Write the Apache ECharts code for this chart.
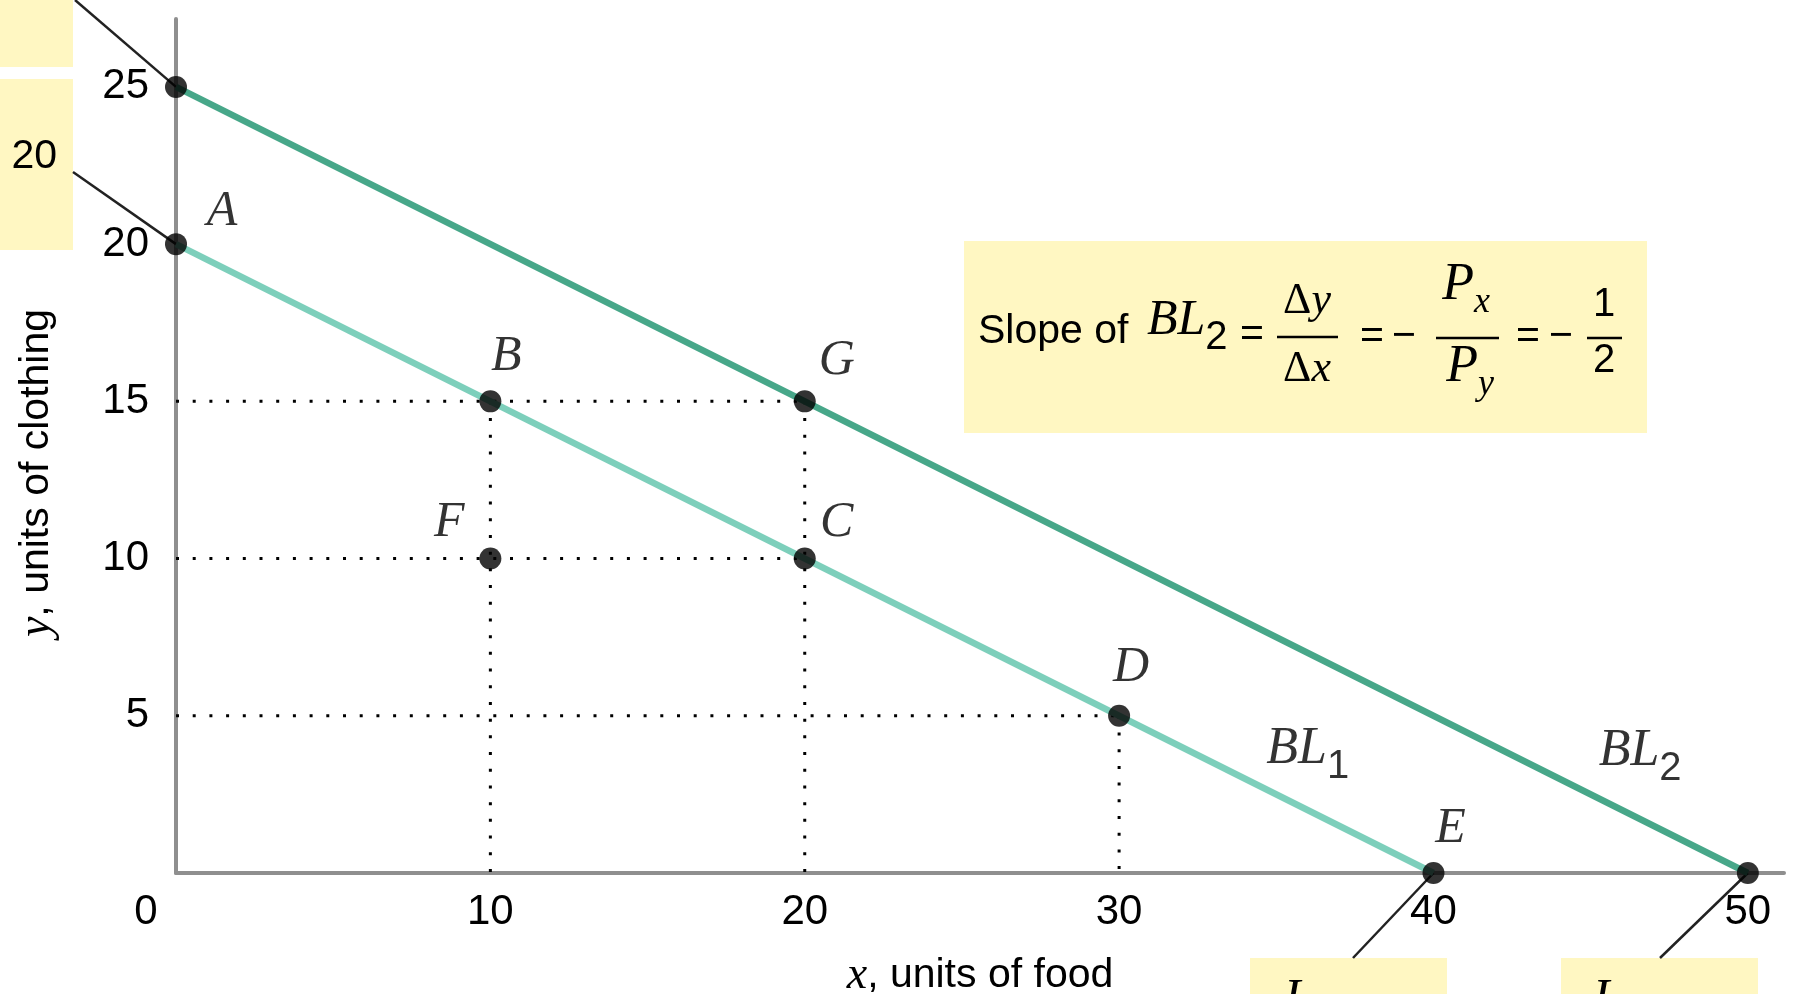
<!DOCTYPE html>
<html>
<head>
<meta charset="utf-8">
<script src="https://cdn.jsdelivr.net/npm/echarts@6/dist/echarts.min.js"></script>
<style>
  html, body { margin: 0; padding: 0; background: #ffffff; }
  #chart { width: 1793px; height: 994px; }
</style>
</head>
<body>
<div id="chart"></div>
<script>
// Budget lines: y = units of clothing, x = units of food
const budgetLine1 = [[0, 20], [40, 0]];   // BL1
const budgetLine2 = [[0, 25], [50, 0]];   // BL2

// Labelled consumption bundles
const bundleNames = ['A', 'B', 'C', 'D', 'E', 'F', 'G'];
const bundleX     = [0, 10, 20, 30, 40, 10, 20];
const bundleY     = [20, 15, 10, 5, 0, 10, 15];

// Unlabelled intercepts of BL2
const bl2Intercepts = [[0, 25], [50, 0]];

// Dotted reference lines
const guideLines = [
  [[0, 15], [20, 15]],
  [[0, 10], [20, 10]],
  [[0, 5], [30, 5]],
  [[10, 15], [10, 0]],
  [[20, 15], [20, 0]],
  [[30, 5], [30, 0]]
];

// Line name tags, anchored to a point on each line
const lineTags = [
  { name: 'BL', sub: '1', x: 36, y: 2 },
  { name: 'BL', sub: '2', x: 46, y: 2 }
];

// Axis extents and tick steps
const X_MIN = 0, X_MAX = 51.15, X_STEP = 10;
const Y_MIN = 0, Y_MAX = 27.16, Y_STEP = 5;

const INK = '#000000';
const SANS = 'Liberation Sans';
const SERIF = 'Liberation Serif';
const BOX = '#fff7c2';

// Label placement for each bundle letter (offset from the dot)
const letterOffset = {
  A: [46, -32], B: [16, -44], C: [32, -36], D: [12, -48],
  E: [17, -44], F: [-41, -36], G: [32, -40]
};
const tagOffset = { '1': [0, -55], '2': [18, -53] };

const chart = echarts.init(document.getElementById('chart'), null, { renderer: 'canvas' });

const italicSerif = { fontFamily: SERIF, fontStyle: 'italic', color: INK };

const series = [];
guideLines.forEach((seg) => {
  series.push({
    type: 'line',
    data: seg,
    symbol: 'none',
    silent: true,
    clip: false,
    z: 1,
    lineStyle: { color: INK, width: 3, type: [3, 13.7], cap: 'butt' }
  });
});
series.push({
  type: 'line', data: budgetLine1, symbol: 'none', clip: false, z: 2,
  lineStyle: { color: '#7dcfbb', width: 6.5 }
});
series.push({
  type: 'line', data: budgetLine2, symbol: 'none', clip: false, z: 2,
  lineStyle: { color: '#47a789', width: 6.5 }
});
series.push({
  type: 'scatter',
  data: bl2Intercepts,
  symbolSize: 22, clip: false, z: 5,
  itemStyle: { color: '#000000' }
});
series.push({
  type: 'scatter',
  clip: false, z: 5,
  symbolSize: 22,
  itemStyle: { color: '#000000' },
  data: bundleNames.map((n, i) => ({
    name: n,
    value: [bundleX[i], bundleY[i]],
    label: {
      show: true,
      position: 'inside',
      offset: letterOffset[n],
      formatter: '{b}',
      align: 'center',
      verticalAlign: 'middle',
      fontFamily: SERIF, fontStyle: 'italic', fontSize: 50, color: INK
    }
  }))
});
series.push({
  type: 'scatter',
  clip: false, z: 5,
  symbolSize: 0,
  silent: true,
  data: lineTags.map((t) => ({
    value: [t.x, t.y],
    label: {
      show: true,
      position: 'inside',
      offset: tagOffset[t.sub],
      formatter: '{i|' + t.name + '}{s|' + t.sub + '}',
      rich: {
        i: Object.assign({ fontSize: 52, verticalAlign: 'bottom', padding: [0, 0, 12, 0] }, italicSerif),
        s: { fontFamily: SANS, fontSize: 40, color: INK, verticalAlign: 'bottom' }
      }
    }
  }))
});

const option = {
  animation: false,
  backgroundColor: '#ffffff',
  grid: { left: 176, right: 9, top: 19, bottom: 121, containLabel: false, outerBoundsMode: 'none' },
  xAxis: {
    type: 'value', min: X_MIN, max: X_MAX, interval: X_STEP,
    name: '{i|x}, units of food',
    nameLocation: 'middle',
    nameGap: 80,
    nameTextStyle: {
      fontFamily: SANS, fontSize: 41, color: INK,
      rich: { i: Object.assign({ fontSize: 46 }, italicSerif) }
    },
    axisLine: { show: true, onZero: false, lineStyle: { color: '#8f8f8f', width: 4 } },
    axisTick: { show: false },
    splitLine: { show: false },
    axisLabel: {
      margin: 18, fontFamily: SANS, fontSize: 42, color: INK,
      showMaxLabel: false,
      formatter: (v) => {
        if (v % X_STEP !== 0) return '';
        return v === 0 ? '{z|0}' : String(v);
      },
      rich: { z: { fontFamily: SANS, fontSize: 42, color: INK, padding: [0, 60, 0, 0] } }
    }
  },
  yAxis: {
    type: 'value', min: Y_MIN, max: Y_MAX, interval: Y_STEP,
    name: '{i|y}, units of clothing',
    nameLocation: 'middle',
    nameGap: 116,
    nameTextStyle: {
      fontFamily: SANS, fontSize: 41, color: INK,
      padding: [0, 54, 0, 0],
      rich: { i: Object.assign({ fontSize: 46 }, italicSerif) }
    },
    axisLine: { show: true, onZero: false, lineStyle: { color: '#8f8f8f', width: 4 } },
    axisTick: { show: false },
    splitLine: { show: false },
    axisLabel: {
      margin: 27, fontFamily: SANS, fontSize: 42, color: INK,
      showMaxLabel: false,
      formatter: (v) => (v === 0 || v % Y_STEP !== 0) ? '' : String(v)
    }
  },
  series: series
};

chart.setOption(option);

// Annotation boxes, the slope formula and pointer lines
function txt(x, y, text, style, extra) {
  return Object.assign({
    type: 'text', x: x, y: y, z: 3,
    style: Object.assign({ text: text, fill: INK, align: 'center', verticalAlign: 'middle',
      fontFamily: SANS, fontSize: 41 }, style)
  }, extra || {});
}
function bar(x1, x2, y) {
  return { type: 'line', z: 3, shape: { x1: x1, y1: y, x2: x2, y2: y },
    style: { stroke: INK, lineWidth: 2.5 } };
}
function rect(x, y, w, h) {
  return { type: 'rect', z: 0, shape: { x: x, y: y, width: w, height: h }, style: { fill: BOX } };
}

const pA25 = chart.convertToPixel({ gridIndex: 0 }, bl2Intercepts[0]);
const pA20 = chart.convertToPixel({ gridIndex: 0 }, budgetLine1[0]);
const pE40 = chart.convertToPixel({ gridIndex: 0 }, budgetLine1[1]);
const pE50 = chart.convertToPixel({ gridIndex: 0 }, bl2Intercepts[1]);

const pointer = (x1, y1, x2, y2) => ({
  type: 'line', z: 1, shape: { x1: x1, y1: y1, x2: x2, y2: y2 },
  style: { stroke: '#222222', lineWidth: 2.5 }
});

const richBL = {
  i: { fontFamily: SERIF, fontStyle: 'italic', fontSize: 50, fill: INK, verticalAlign: 'bottom', padding: [0, 0, 12, 0] },
  s: { fontFamily: SANS, fontSize: 40, fill: INK, verticalAlign: 'bottom' }
};
const richDelta = {
  u: { fontFamily: SERIF, fontSize: 44, fill: INK },
  i: { fontFamily: SERIF, fontStyle: 'italic', fontSize: 44, fill: INK }
};
const richP = {
  p: { fontFamily: SERIF, fontStyle: 'italic', fontSize: 52, fill: INK, verticalAlign: 'bottom', padding: [0, 0, 10, 0] },
  s: { fontFamily: SERIF, fontStyle: 'italic', fontSize: 36, fill: INK, verticalAlign: 'bottom' }
};

const graphics = [
  // boxes
  rect(0, 0, 73, 67),
  rect(0, 79, 73, 171),
  rect(964, 241, 683, 192),
  rect(1250, 958, 197, 40),
  rect(1561, 958, 197, 40),
  // pointer lines
  pointer(75, 0, pA25[0], pA25[1]),
  pointer(73, 172, pA20[0], pA20[1]),
  pointer(1353, 958, pE40[0], pE40[1]),
  pointer(1660, 958, pE50[0], pE50[1]),
  // box texts
  txt(57, 157, '= 20', { align: 'right' }),
  txt(1292, 975, 'I', { fontFamily: SERIF, fontStyle: 'italic', fontSize: 50, verticalAlign: 'top' }),
  txt(1601, 975, 'I', { fontFamily: SERIF, fontStyle: 'italic', fontSize: 50, verticalAlign: 'top' }),
  // slope formula
  txt(978, 332, 'Slope of', { align: 'left' }),
  { type: 'text', x: 1147, y: 358, z: 3,
    style: { text: '{i|BL}{s|2}', rich: richBL, align: 'left', verticalAlign: 'bottom' } },
  txt(1252, 335, '='),
  bar(1277, 1338, 337),
  txt(1307, 301, '{u|Δ}{i|y}', { rich: richDelta }),
  txt(1307, 369, '{u|Δ}{i|x}', { rich: richDelta }),
  txt(1372, 337, '='),
  txt(1404, 337, '\u2212'),
  bar(1436, 1499, 338),
  txt(1466, 290, '{p|P}{s|x}', { rich: richP }),
  txt(1470, 372, '{p|P}{s|y}', { rich: richP }),
  txt(1528, 337, '='),
  txt(1561, 337, '\u2212'),
  bar(1587, 1622, 338),
  txt(1604, 305, '1', { fontSize: 40 }),
  txt(1604, 361, '2', { fontSize: 40 })
];

chart.setOption({ graphic: { elements: graphics } });
</script>
</body>
</html>
